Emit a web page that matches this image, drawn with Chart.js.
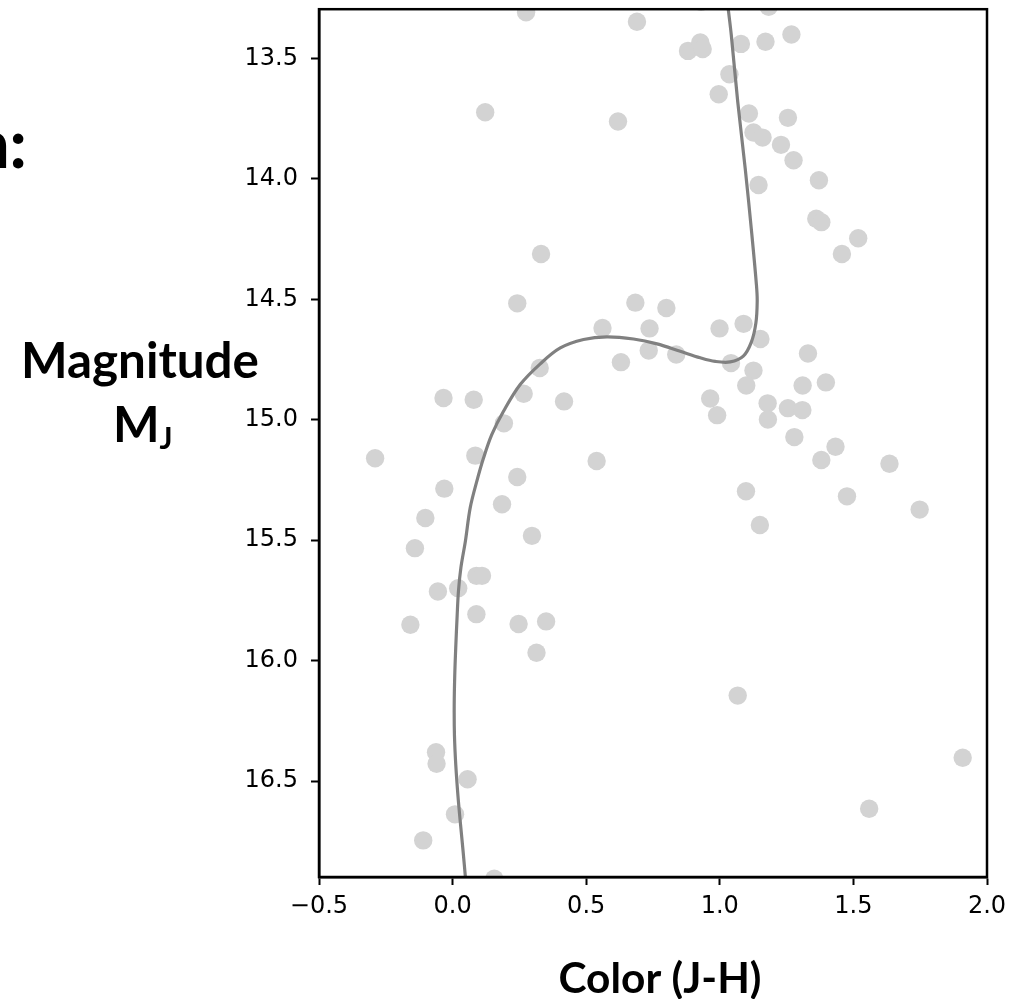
<!DOCTYPE html>
<html>
<head>
<meta charset="utf-8">
<title>Color-magnitude diagram</title>
<script src="https://cdn.jsdelivr.net/npm/chart.js"></script>
<style>
  html, body { margin: 0; padding: 0; background: #fff; }
  canvas { display: block; }
</style>
</head>
<body>
<canvas id="cmd" width="1026" height="999"></canvas>
<script>
// stars: J-H colour and absolute J magnitude
const colorJH = [
  0.275, 0.690, 0.881, 0.927, 0.936, 1.079, 1.171, 1.268, 1.183, 0.930,
  0.122, 0.619, 1.036, 0.996, 1.109, 1.255, 1.126, 1.160, 1.229, 1.276,
  1.145, 1.371, 1.361, 1.380, 1.518, 1.457, 0.331, 0.242, 0.684, 0.800,
  0.561, 0.737, 0.999, 1.089, 1.152, 1.330, 0.734, 0.837, 1.042, 1.126,
  1.099, 1.310, 1.397, 0.964, 0.990, 1.179, 1.180, 1.255, 1.309, 1.279,
  1.433, 1.380, 1.635, 1.098, 1.476, 1.748, 1.150, 0.630, 0.326, 0.266,
  -0.034, 0.079, 0.417, 0.192, -0.290, 0.085, 0.539, 0.242, -0.031, 0.185,
  -0.102, 0.297, -0.141, 0.089, 0.110, -0.055, 0.021, 0.089, -0.158, 0.247,
  0.350, 0.314, -0.062, -0.060, 0.056, 0.009, -0.110, 0.156, 1.067, 1.909,
  1.559
];
const magJ = [
  13.309, 13.348, 13.469, 13.434, 13.461, 13.440, 13.431, 13.401, 13.286, 13.265,
  13.724, 13.762, 13.566, 13.649, 13.729, 13.747, 13.808, 13.829, 13.859, 13.923,
  14.026, 14.006, 14.166, 14.180, 14.247, 14.312, 14.312, 14.517, 14.514, 14.536,
  14.619, 14.621, 14.621, 14.602, 14.665, 14.725, 14.713, 14.729, 14.765, 14.796,
  14.858, 14.858, 14.845, 14.912, 14.981, 14.932, 14.999, 14.952, 14.960, 15.072,
  15.112, 15.167, 15.183, 15.297, 15.318, 15.373, 15.437, 14.761, 14.785, 14.892,
  14.910, 14.917, 14.924, 15.015, 15.160, 15.149, 15.171, 15.238, 15.286, 15.351,
  15.408, 15.482, 15.533, 15.648, 15.648, 15.713, 15.699, 15.807, 15.851, 15.848,
  15.837, 15.967, 16.380, 16.428, 16.492, 16.638, 16.746, 16.905, 16.145, 16.403,
  16.615
];

// model track, top to bottom
const trackColor = [
  1.031, 1.043, 1.067, 1.095, 1.120, 1.137, 1.140, 1.135, 1.118, 1.088,
  1.039, 0.983, 0.927, 0.852, 0.765, 0.677, 0.578, 0.490, 0.403, 0.328,
  0.253, 0.191, 0.147, 0.116, 0.091, 0.066, 0.048, 0.031, 0.022, 0.017,
  0.012, 0.008, 0.006, 0.007, 0.012, 0.020, 0.030, 0.039, 0.049
];
const trackMag = [
  13.290, 13.403, 13.679, 13.956, 14.232, 14.439, 14.508, 14.599, 14.678, 14.736,
  14.760, 14.758, 14.743, 14.716, 14.685, 14.665, 14.656, 14.667, 14.702, 14.768,
  14.854, 14.964, 15.061, 15.158, 15.254, 15.365, 15.503, 15.614, 15.710, 15.814,
  15.939, 16.063, 16.188, 16.312, 16.435, 16.560, 16.684, 16.788, 16.912
];

const xTicks = [-0.5, 0.0, 0.5, 1.0, 1.5, 2.0];
const xTickLabels = ['\u22120.5', '0.0', '0.5', '1.0', '1.5', '2.0'];
const yTicks = [13.5, 14.0, 14.5, 15.0, 15.5, 16.0, 16.5];
const yTickLabels = ['13.5', '14.0', '14.5', '15.0', '15.5', '16.0', '16.5'];

const xLimits = [-0.5, 2.0];
const yLimits = [13.296, 16.898];

const boldFamily = 'Lato, "Open Sans", sans-serif';

// font size that makes text span the wanted width
function fitSize(ctx, text, width) {
  ctx.font = 'bold 100px ' + boldFamily;
  return 100 * width / ctx.measureText(text).width;
}

// matplotlib-like box round the axes
const framePlugin = {
  id: 'frame',
  afterDraw(chart) {
    const { ctx, chartArea: a } = chart;
    ctx.save();
    ctx.strokeStyle = '#000';
    ctx.lineWidth = 2.5;
    ctx.strokeRect(a.left, a.top, a.right - a.left, a.bottom - a.top);
    ctx.restore();
  }
};

// slide text around the plot
const slideText = {
  id: 'slideText',
  afterDraw(chart) {
    const ctx = chart.ctx;
    ctx.save();
    ctx.fillStyle = '#000';
    ctx.textBaseline = 'alphabetic';

    const size = fitSize(ctx, 'Magnitude', 238);
    ctx.font = 'bold ' + size + 'px ' + boldFamily;
    ctx.textAlign = 'center';
    ctx.fillText('Magnitude', 140, 378);

    ctx.textAlign = 'left';
    const mW = ctx.measureText('M').width;
    ctx.fillText('M', 113, 442);
    ctx.font = 'bold ' + (size * 0.62) + 'px ' + boldFamily;
    ctx.fillText('J', 113 + mW, 449);

    const cSize = fitSize(ctx, 'Color (J-H)', 203);
    ctx.font = 'bold ' + cSize + 'px ' + boldFamily;
    ctx.textAlign = 'center';
    ctx.fillText('Color (J-H)', 660, 993);

    // cut-off end of the slide heading
    ctx.font = 'bold ' + (size * 1.4) + 'px ' + boldFamily;
    ctx.textAlign = 'right';
    ctx.fillText(':', 27, 168);
    ctx.fillText('n', 10, 168);
    ctx.restore();
  }
};

const tickFont = { family: '"DejaVu Sans"', size: 24 };

new Chart(document.getElementById('cmd'), {
  type: 'scatter',
  data: {
    datasets: [
      {
        label: 'track',
        data: trackColor.map((x, i) => ({ x: x, y: trackMag[i] })),
        showLine: true,
        pointRadius: 0,
        borderColor: '#808080',
        borderWidth: 3.2,
        tension: 0.35,
        fill: false,
        clip: 0,
        order: 0
      },
      {
        label: 'stars',
        data: colorJH.map((x, i) => ({ x: x, y: magJ[i] })),
        pointRadius: 9.2,
        pointBackgroundColor: '#d3d3d3',
        pointBorderWidth: 0,
        clip: 0,
        order: 1
      }
    ]
  },
  options: {
    responsive: false,
    animation: false,
    devicePixelRatio: 1,
    events: [],
    layout: { padding: { left: 0, top: 7, right: 39, bottom: 0 } },
    plugins: {
      legend: { display: false },
      tooltip: { enabled: false }
    },
    scales: {
      x: {
        type: 'linear',
        min: xLimits[0],
        max: xLimits[1],
        afterBuildTicks: s => { s.ticks = xTicks.map(v => ({ value: v })); },
        afterFit: s => { s.height = 122; s.paddingLeft = 0; s.paddingRight = 0; },
        ticks: {
          autoSkip: false,
          maxRotation: 0,
          padding: 7,
          color: '#000',
          font: tickFont,
          callback: v => xTickLabels[xTicks.indexOf(v)]
        },
        grid: { drawOnChartArea: false, drawTicks: true, tickLength: 8, tickWidth: 2, tickColor: '#000' },
        border: { display: true, color: '#000', width: 2.5 }
      },
      y: {
        type: 'linear',
        reverse: true,
        min: yLimits[0],
        max: yLimits[1],
        afterBuildTicks: s => { s.ticks = yTicks.map(v => ({ value: v })); },
        afterFit: s => { s.width = 319; s.paddingTop = 0; s.paddingBottom = 0; },
        ticks: {
          autoSkip: false,
          padding: 13,
          color: '#000',
          font: tickFont,
          callback: v => yTickLabels[yTicks.indexOf(v)]
        },
        grid: { drawOnChartArea: false, drawTicks: true, tickLength: 8, tickWidth: 2, tickColor: '#000' },
        border: { display: true, color: '#000', width: 2.5 }
      }
    }
  },
  plugins: [framePlugin, slideText]
});
</script>
</body>
</html>
